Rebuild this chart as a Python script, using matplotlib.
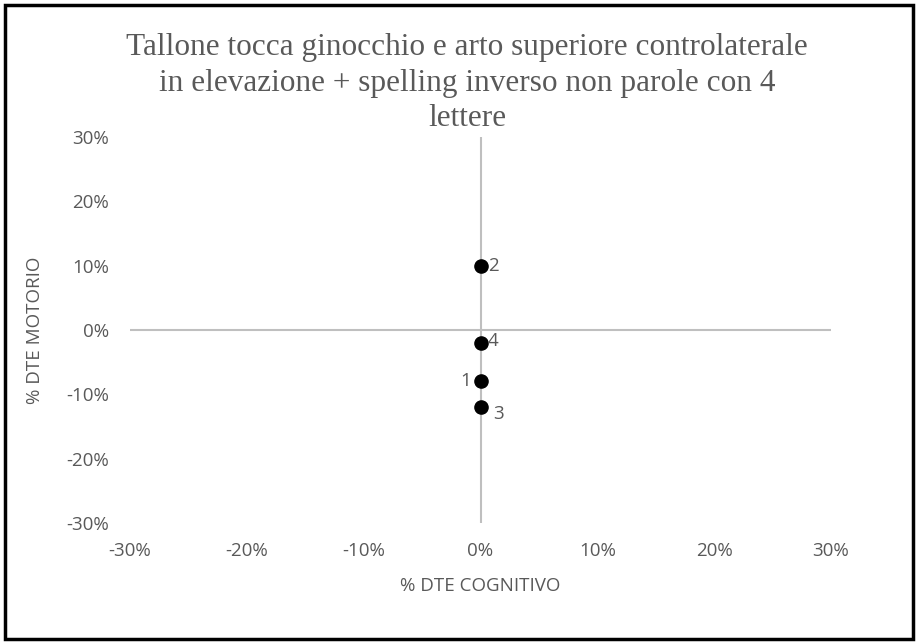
import numpy as np
import matplotlib.pyplot as plt
from matplotlib.patches import Rectangle
from matplotlib.ticker import FuncFormatter

# Data: dual-task effect, cognitive (x) vs motor (y), as fractions
subjects = ['1', '2', '3', '4']
dte_cognitivo = [0.0, 0.0, 0.0, 0.0]
dte_motorio = [-0.08, 0.10, -0.12, -0.02]
label_offsets = [(-11, 0), (9, 0), (13, -5), (9, 1)]  # points, per subject

title = ('Tallone tocca ginocchio e arto superiore controlaterale\n'
         'in elevazione + spelling inverso non parole con 4\n'
         'lettere')
ticks = [-0.3, -0.2, -0.1, 0.0, 0.1, 0.2, 0.3]

text_color = '#595959'
grid_color = '#BFBFBF'
tick_font = 'Open Sans'
fs = 13.5

fig = plt.figure(figsize=(9.18, 6.44), dpi=100)
ax = fig.add_axes([130 / 918, 1 - 523 / 644, (831 - 130) / 918, (523 - 137) / 644])

ax.set_xlim(-0.3, 0.3)
ax.set_ylim(-0.3, 0.3)

# Axis lines crossing at zero
ax.axhline(0, color=grid_color, lw=1.5, zorder=1)
ax.axvline(0, color=grid_color, lw=1.5, zorder=1)
for s in ax.spines.values():
    s.set_visible(False)

ax.scatter(dte_cognitivo, dte_motorio, s=90, color='black', zorder=3)
for name, x, y, (dx, dy) in zip(subjects, dte_cognitivo, dte_motorio, label_offsets):
    ax.annotate(name, (x, y), xytext=(dx, dy), textcoords='offset points',
                ha='center', va='center', fontsize=fs, color=text_color,
                family=tick_font)

pct = FuncFormatter(lambda v, _: f'{v * 100:.0f}%')
ax.set_xticks(ticks)
ax.set_yticks(ticks)
ax.xaxis.set_major_formatter(pct)
ax.yaxis.set_major_formatter(pct)
ax.tick_params(length=0, labelsize=fs, labelcolor=text_color)
ax.tick_params(axis='x', pad=14)
ax.tick_params(axis='y', pad=15)
for lab in ax.get_xticklabels() + ax.get_yticklabels():
    lab.set_family(tick_font)

ax.set_xlabel('% DTE COGNITIVO', fontsize=fs, color=text_color,
              family=tick_font, labelpad=12)
ax.set_ylabel('% DTE MOTORIO', fontsize=fs, color=text_color,
              family=tick_font, labelpad=16)

fig.text(467 / 918, 1 - 83 / 644, title, ha='center', va='center',
         fontsize=22.5, color=text_color, family='Liberation Serif',
         linespacing=1.3)

# Chart border
fig.patches.append(Rectangle((5 / 918, 5 / 644), 908 / 918, 634 / 644,
                             transform=fig.transFigure, fill=False,
                             edgecolor='black', lw=2.5))

fig.savefig('out.png', dpi=100)
